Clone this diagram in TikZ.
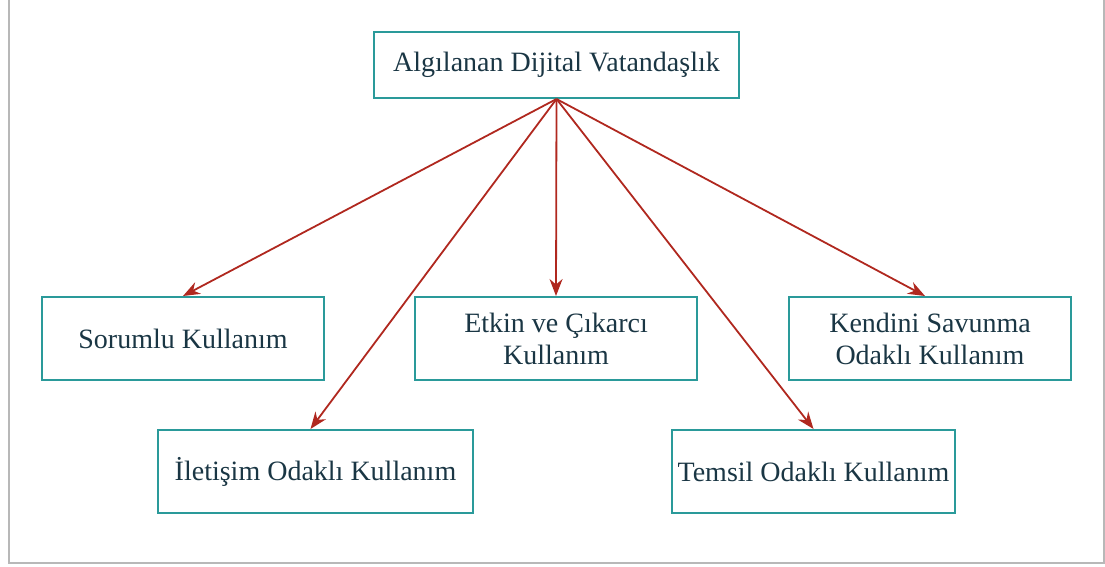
\documentclass[tikz,border=0pt]{standalone}
\usepackage{fontspec}
\setmainfont{Liberation Serif}
\usetikzlibrary{arrows.meta}
\definecolor{boxc}{HTML}{2A9A9A}
\definecolor{txtc}{HTML}{1A3644}
\definecolor{arrc}{HTML}{B0281F}
\definecolor{framec}{HTML}{B8B8B8}
\tikzset{
  box/.style={draw=boxc, line width=2pt, minimum height=83pt, inner sep=0pt,
    font=\fontsize{28}{32}\selectfont, text=txtc, align=center},
  conn/.style={draw=arrc, line width=1.8pt, -{Stealth[length=17pt,width=13pt]}}
}
\begin{document}
\begin{tikzpicture}[x=1pt,y=-1pt]
\useasboundingbox (0,0) rectangle (1105,566);
\draw[framec, line width=2pt] (9,0) -- (9,563) -- (1104,563) -- (1104,0);
\node[box, minimum width=365pt, minimum height=66pt] (top) at (556.5,65) {Algılanan Dijital Vatandaşlık};
\node[box, minimum width=282pt] (sor) at (183,338.5) {Sorumlu Kullanım};
\node[box, minimum width=282pt] (etk) at (556,338.5) {Etkin ve Çıkarcı\\Kullanım};
\node[box, minimum width=282pt] (ken) at (930,338.5) {Kendini Savunma\\Odaklı Kullanım};
\node[box, minimum width=315pt] (ilt) at (315.5,471.5) {İletişim Odaklı Kullanım};
\node[box, minimum width=283pt] (tem) at (813.5,471.5) {Temsil Odaklı Kullanım};
\draw[conn] (top.south) -- (sor.north);
\draw[conn] (top.south) -- ([xshift=-5pt]ilt.north);
\draw[conn] (top.south) -- (etk.north);
\draw[conn] (top.south) -- (tem.north);
\draw[conn] (top.south) -- ([xshift=-5pt]ken.north);
\end{tikzpicture}
\end{document}
